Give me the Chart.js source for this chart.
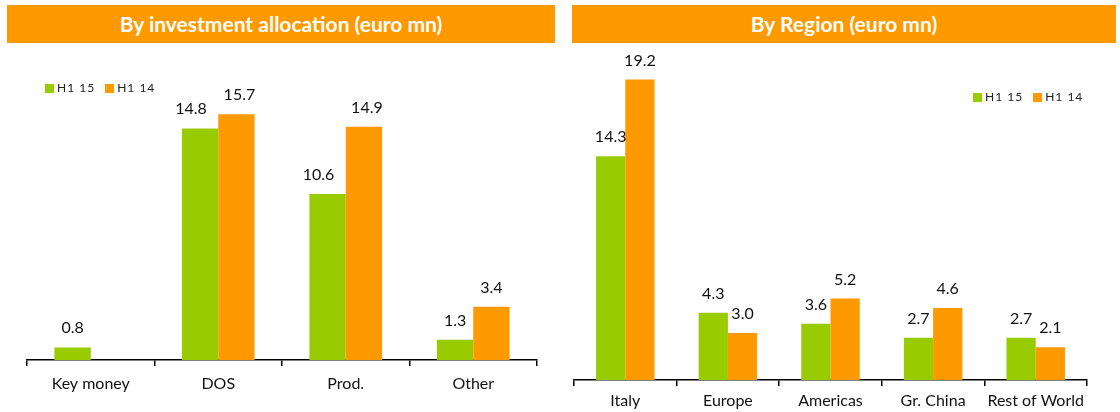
<!DOCTYPE html>
<html>
<head>
<meta charset="utf-8">
<script src="https://cdn.jsdelivr.net/npm/chart.js@4.4.1/dist/chart.umd.min.js"></script>
<style>
  html, body { margin: 0; padding: 0; background: #fff; }
  body { width: 1120px; height: 412px; position: relative; overflow: hidden; font-family: Lato, "Open Sans", sans-serif; }
  .panel { position: absolute; top: 0; width: 560px; height: 412px; }
  .panel canvas { position: absolute; left: 0; top: 0; }
  .header {
    position: absolute; top: 5px; height: 38px; line-height: 38px;
    background: #ff9900; color: #fff; font-weight: bold; font-size: 21px; text-align: center;
  }
  .legend { position: absolute; font-size: 12px; color: #222; white-space: nowrap; letter-spacing: 1px; }
  .legend span.sw { display: inline-block; width: 9px; height: 9px; margin-right: 3px; vertical-align: -1px; }
  .legend span.item { margin-right: 6px; }
</style>
</head>
<body>
<div class="panel" style="left:0">
  <canvas id="allocChart" width="560" height="412"></canvas>
  <div class="header" style="left:7px;width:548px">By investment allocation (euro mn)</div>
  <div class="legend" style="left:45px;top:80px">
    <span class="item"><span class="sw" style="background:#99cc00"></span>H1 15</span>
    <span class="item"><span class="sw" style="background:#ff9900"></span>H1 14</span>
  </div>
</div>
<div class="panel" style="left:560px">
  <canvas id="regionChart" width="560" height="412"></canvas>
  <div class="header" style="left:12px;width:544px">By Region (euro mn)</div>
  <div class="legend" style="left:413px;top:89px">
    <span class="item"><span class="sw" style="background:#99cc00"></span>H1 15</span>
    <span class="item"><span class="sw" style="background:#ff9900"></span>H1 14</span>
  </div>
</div>

<script>
// data
const allocLabels = ['Key money', 'DOS', 'Prod.', 'Other'];
const allocH115 = [0.8, 14.8, 10.6, 1.3];
const allocH114 = [null, 15.7, 14.9, 3.4];

const regionLabels = ['Italy', 'Europe', 'Americas', 'Gr. China', 'Rest of World'];
const regionH115 = [14.3, 4.3, 3.6, 2.7, 2.7];
const regionH114 = [19.2, 3.0, 5.2, 4.6, 2.1];

const seriesNames = ['H1 15', 'H1 14'];
const GREEN = '#99cc00';
const ORANGE = '#ff9900';
const FONT = 'Lato, "Open Sans", sans-serif';

// draws the value above every bar; tall pairs get nudged apart like the original
function valueLabels(shift) {
    return {
        id: 'valueLabels',
        afterDatasetsDraw(chart) {
            const ctx = chart.ctx;
            const sets = chart.data.datasets;
            ctx.save();
            ctx.font = '16px ' + FONT;
            ctx.fillStyle = '#111';
            ctx.textAlign = 'center';
            ctx.textBaseline = 'alphabetic';
            sets.forEach((ds, i) => {
                chart.getDatasetMeta(i).data.forEach((bar, j) => {
                    const v = ds.data[j];
                    if (v === null || v === undefined) return;
                    const tall = sets.every(s => s.data[j] !== null && s.data[j] >= 10);
                    ctx.fillText(v.toFixed(1), bar.x + (tall ? shift[i] : 0), bar.y - 14);
                });
            });
            ctx.restore();
        }
    };
}

function makeChart(id, labels, a, b, pad, axisHeight, tickPad, shift) {
    return new Chart(document.getElementById(id), {
        type: 'bar',
        data: {
            labels: labels,
            datasets: [
                { label: seriesNames[0], data: a, backgroundColor: GREEN },
                { label: seriesNames[1], data: b, backgroundColor: ORANGE }
            ]
        },
        options: {
            responsive: false,
            animation: false,
            datasets: { bar: { categoryPercentage: 0.57, barPercentage: 1.0 } },
            layout: { padding: pad },
            plugins: { legend: { display: false }, tooltip: { enabled: false } },
            scales: {
                x: {
                    grid: { offset: true, drawOnChartArea: false, drawTicks: true, tickLength: 6, color: '#000', lineWidth: 1.5 },
                    border: { display: true, color: '#000', width: 1.5 },
                    ticks: { color: '#111', font: { family: FONT, size: 16 }, padding: tickPad, maxRotation: 0, autoSkip: false },
                    afterFit(scale) { scale.height = axisHeight; }
                },
                y: { display: false, min: 0, max: 20 }
            }
        },
        plugins: [valueLabels(shift)]
    });
}

makeChart('allocChart', allocLabels, allocH115, allocH114, { left: 27, right: 23, top: 47, bottom: 0 }, 52, 8, [-9, 3]);
makeChart('regionChart', regionLabels, regionH115, regionH114, { left: 14, right: 33, top: 67, bottom: 0 }, 32, 5, [0, 0]);
</script>
</body>
</html>
